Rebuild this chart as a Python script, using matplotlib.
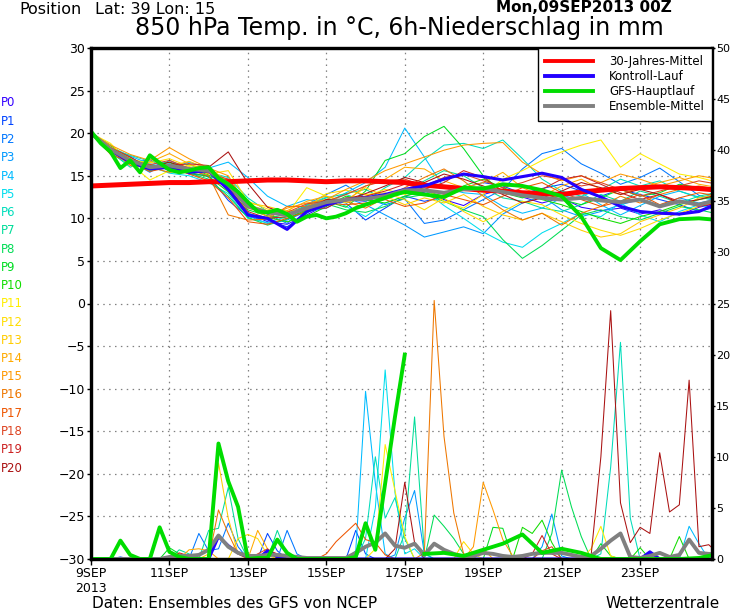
import numpy as np
import matplotlib.pyplot as plt
from matplotlib.lines import Line2D

# time axes, hours after 09SEP2013 00Z
hours_6h = np.arange(0, 385, 6)        # ensemble precipitation
hours_12h = np.arange(0, 385, 12)      # ensemble temperature
hours_gfs = np.r_[np.arange(0, 193, 6), np.arange(204, 385, 12)]
hours_gfs_rain_a = np.arange(0, 193, 6)
hours_gfs_rain_b = np.arange(204, 385, 12)

tick_hours = [0, 48, 96, 144, 192, 240, 288, 336]
tick_labels = ["9SEP\n2013", "11SEP", "13SEP", "15SEP", "17SEP", "19SEP", "21SEP", "23SEP"]

member_names = ["P%d" % i for i in range(21)]
member_colors = ["#3300ff", "#0044ff", "#0077ff", "#0099ff", "#00bbff", "#00ddee",
                 "#00ddbb", "#00dd99", "#00dd55", "#00dd22", "#11dd00", "#ffee00",
                 "#ffdd00", "#ffcc00", "#ffaa00", "#ff9900", "#ee7700", "#ee5500",
                 "#dd4422", "#cc2222", "#aa1111"]

# 850 hPa temperature of the members (12h steps)
t_p0 = [20.0, 18.3, 16.9, 16.2, 15.9, 15.6, 15.4, 13.2, 10.6, 9.6, 9.3, 10.4, 11.6, 12.2, 12.0, 12.8, 13.4,
        13.0, 12.2, 11.5, 12.8, 13.4, 12.5, 11.8, 12.4, 11.3, 10.9, 11.2, 10.5, 11.0, 10.4, 11.3, 11.8]
t_p1 = [20.0, 17.9, 17.2, 15.8, 16.4, 15.2, 15.0, 12.1, 10.2, 9.8, 9.0, 10.6, 12.2, 11.8, 9.8, 11.2, 12.6,
        12.0, 12.5, 13.6, 14.2, 13.8, 12.9, 13.5, 14.0, 13.2, 12.6, 13.4, 12.8, 12.2, 11.6, 10.8, 11.4]
t_p2 = [20.0, 18.6, 16.5, 16.9, 15.5, 16.0, 14.8, 14.6, 11.3, 10.5, 9.4, 11.6, 12.8, 13.9, 12.4, 11.6, 12.3,
        9.4, 9.8, 11.0, 12.2, 13.4, 15.8, 17.6, 18.2, 16.4, 15.3, 14.0, 14.8, 15.9, 14.3, 12.7, 12.1]
t_p3 = [20.0, 18.0, 16.7, 15.4, 16.8, 15.8, 15.6, 13.4, 10.3, 9.4, 9.8, 10.8, 11.2, 12.4, 11.6, 10.4, 9.2,
        7.8, 8.4, 9.0, 8.2, 10.5, 11.8, 12.6, 11.0, 10.2, 10.8, 11.6, 12.2, 11.4, 12.4, 11.8, 12.3]
t_p4 = [20.0, 18.4, 17.3, 16.4, 15.9, 16.6, 15.9, 16.6, 14.8, 12.6, 11.4, 12.2, 11.8, 13.0, 14.2, 16.0, 20.6,
        17.2, 13.6, 13.0, 12.8, 11.4, 10.6, 11.2, 12.4, 13.0, 11.6, 10.4, 11.5, 12.6, 13.2, 12.5, 12.0]
t_p5 = [20.0, 17.6, 16.3, 16.1, 15.3, 15.0, 14.2, 12.9, 10.0, 9.5, 10.2, 11.6, 12.5, 11.4, 10.2, 11.8, 12.6,
        13.3, 11.5, 10.0, 8.4, 7.2, 6.6, 8.3, 9.4, 10.6, 10.2, 11.8, 10.4, 9.6, 10.8, 11.6, 11.0]
t_p6 = [20.0, 18.1, 17.4, 16.7, 16.5, 16.3, 15.4, 14.8, 12.4, 10.8, 10.3, 10.6, 11.9, 12.8, 12.0, 13.6, 14.8,
        16.9, 18.6, 18.8, 18.2, 19.2, 17.0, 14.6, 13.2, 12.6, 13.4, 14.6, 13.8, 14.4, 13.2, 12.4, 13.0]
t_p7 = [20.0, 17.8, 16.0, 17.0, 16.2, 15.5, 15.7, 13.7, 10.6, 9.9, 10.6, 11.5, 12.4, 12.9, 13.4, 12.2, 13.0,
        14.4, 15.6, 15.0, 13.6, 12.4, 12.0, 11.2, 10.8, 11.6, 12.8, 12.0, 13.2, 12.6, 11.8, 12.6, 13.1]
t_p8 = [20.0, 18.2, 16.6, 15.6, 16.0, 15.3, 14.6, 12.6, 10.1, 9.2, 9.9, 10.9, 11.7, 11.0, 10.7, 11.4, 12.4,
        12.8, 12.0, 11.0, 10.2, 7.5, 5.3, 6.8, 8.6, 10.4, 11.0, 10.2, 9.8, 10.6, 11.4, 11.0, 10.5]
t_p9 = [20.0, 18.5, 17.0, 16.3, 15.7, 15.9, 15.1, 13.9, 11.0, 10.3, 10.0, 11.0, 12.0, 11.3, 13.2, 16.8, 17.6,
        19.6, 20.8, 18.2, 15.0, 13.0, 12.4, 13.0, 12.2, 11.6, 12.4, 13.4, 12.6, 13.0, 14.0, 13.6, 13.2]
t_p10 = [20.0, 17.7, 16.8, 15.9, 16.6, 15.4, 14.9, 13.1, 10.4, 10.1, 9.6, 10.2, 11.4, 12.6, 12.2, 11.8, 12.6,
         13.2, 12.6, 13.8, 14.6, 13.6, 12.8, 12.2, 11.6, 10.8, 10.0, 9.4, 10.2, 10.8, 11.6, 12.2, 12.6]
t_p11 = [20.0, 18.8, 16.4, 14.5, 15.6, 16.2, 16.0, 14.2, 11.6, 10.9, 10.5, 13.6, 12.6, 11.8, 12.6, 13.4, 12.8,
         13.6, 12.0, 11.2, 12.8, 14.6, 15.6, 16.8, 17.8, 18.6, 19.2, 16.0, 17.6, 16.4, 15.2, 14.8, 14.2]
t_p12 = [20.0, 18.0, 16.9, 16.5, 17.0, 16.1, 15.2, 15.6, 12.0, 11.1, 10.4, 11.3, 12.9, 13.3, 12.8, 13.0, 12.2,
         11.0, 12.4, 10.8, 9.6, 10.8, 12.0, 11.6, 10.4, 9.4, 8.6, 8.0, 8.8, 9.8, 10.6, 11.4, 12.0]
t_p13 = [20.0, 18.4, 17.1, 15.7, 16.1, 16.7, 15.8, 14.4, 11.8, 11.4, 10.8, 11.1, 11.6, 12.1, 13.6, 12.6, 11.6,
         12.4, 11.8, 12.8, 11.4, 10.4, 9.8, 10.6, 9.6, 8.6, 7.8, 8.2, 9.6, 10.4, 11.2, 12.4, 12.8]
t_p14 = [20.0, 17.8, 16.4, 16.6, 17.6, 16.4, 15.5, 13.8, 11.2, 10.6, 10.9, 12.0, 12.6, 12.0, 13.8, 14.6, 16.0,
         15.8, 14.4, 13.6, 14.2, 15.4, 13.6, 12.6, 13.8, 14.6, 13.4, 12.8, 13.6, 14.2, 14.8, 14.0, 13.6]
t_p15 = [20.0, 18.6, 17.5, 16.8, 18.3, 17.0, 15.9, 15.0, 11.4, 10.2, 11.2, 11.8, 12.2, 13.4, 14.4, 15.6, 16.4,
         17.2, 18.0, 18.6, 18.8, 18.9, 16.6, 15.2, 14.4, 15.0, 14.2, 15.2, 14.6, 13.8, 14.4, 15.0, 14.6]
t_p16 = [20.0, 18.2, 16.2, 16.0, 15.4, 15.7, 15.0, 10.4, 9.8, 9.9, 11.4, 11.4, 12.2, 12.0, 11.2, 12.4, 13.6,
         14.8, 15.8, 14.4, 12.6, 11.0, 9.8, 10.6, 9.2, 10.6, 11.4, 12.6, 11.8, 12.8, 13.4, 13.8, 13.4]
t_p17 = [20.0, 17.5, 16.6, 15.5, 16.0, 15.2, 14.4, 12.4, 9.6, 9.3, 10.0, 10.8, 11.8, 11.6, 11.8, 12.2, 11.4,
         11.8, 12.8, 12.2, 11.6, 12.6, 13.6, 14.2, 13.0, 12.2, 11.4, 12.0, 12.8, 11.6, 12.4, 13.0, 12.6]
t_p18 = [20.0, 18.0, 16.8, 16.3, 16.8, 15.9, 15.3, 14.6, 11.6, 10.5, 10.7, 11.7, 12.0, 12.8, 13.8, 14.4, 14.6,
         13.8, 14.8, 15.2, 14.4, 13.6, 14.2, 15.0, 14.6, 13.8, 14.2, 13.4, 12.6, 13.2, 13.8, 14.4, 14.0]
t_p19 = [20.0, 18.3, 17.2, 15.9, 16.2, 16.4, 16.2, 13.6, 10.8, 10.0, 10.2, 11.2, 11.2, 12.4, 12.6, 13.2, 14.0,
         13.4, 14.2, 15.6, 14.8, 13.2, 12.6, 13.4, 14.6, 15.0, 14.0, 13.0, 12.2, 12.8, 12.0, 11.4, 11.8]
t_p20 = [20.0, 17.9, 16.5, 16.0, 16.6, 15.8, 16.0, 17.8, 14.1, 11.3, 10.5, 11.0, 12.2, 12.2, 12.9, 13.8, 14.8,
         14.2, 15.2, 14.6, 13.8, 12.8, 11.8, 12.4, 13.2, 14.2, 13.6, 12.8, 13.4, 12.8, 11.8, 12.2, 12.8]

t_control = [20.0, 18.0, 16.6, 15.8, 16.0, 15.4, 15.6, 13.4, 10.4, 10.0, 8.7, 10.8, 11.6, 12.2, 12.4, 12.8, 13.4,
             13.8, 14.6, 15.2, 14.9, 14.5, 14.9, 15.3, 14.8, 13.4, 12.5, 11.4, 10.8, 10.6, 10.5, 10.8, 11.8]
t_mean = [20.0, 18.1, 16.8, 16.0, 16.2, 15.8, 15.6, 14.0, 11.4, 10.7, 10.4, 11.2, 11.9, 12.2, 12.3, 12.6, 13.3,
          13.3, 13.0, 13.4, 13.5, 13.1, 12.7, 12.4, 12.2, 12.4, 12.1, 11.9, 12.2, 11.4, 12.0, 11.6, 12.2]
t_clim = [13.8, 13.9, 14.0, 14.1, 14.2, 14.2, 14.3, 14.3, 14.4, 14.5, 14.5, 14.4, 14.3, 14.4, 14.4, 14.3, 14.2,
          13.9, 13.7, 13.5, 13.3, 13.2, 13.0, 12.9, 12.8, 13.1, 13.3, 13.5, 13.6, 13.7, 13.6, 13.5, 13.3]
t_gfs = [20.2, 18.8, 17.8, 15.9, 16.8, 15.4, 17.4, 16.5, 15.7, 15.4, 15.6, 15.9, 16.0, 14.7, 14.0, 13.1, 11.9,
         10.8, 10.7, 11.0, 10.5, 9.6, 10.2, 10.4, 10.0, 10.2, 10.6, 11.2, 11.6, 12.0, 12.4, 12.8, 13.1,
         12.8, 12.5, 13.6, 13.5, 14.0, 13.8, 13.3, 12.6, 10.2, 6.5, 5.1, 7.3, 9.3, 9.9, 10.0, 9.8]

# 6h precipitation of the members (6h steps)
r_p0 = [0, 0, 0, 0, 0, 0, 0, 0, 0, 0, 0, 0, 0, 0, 0, 0,
        0, 0, 0.5, 0.3, 0, 0, 0, 0, 0, 0, 0, 0, 0, 0, 0, 0,
        0, 0, 0, 0, 0, 0, 0, 0, 0, 0, 0, 0, 0, 0, 0, 0,
        0, 0, 0, 0, 0, 0, 0, 0, 0, 0, 0, 0, 0, 0, 0, 0, 0]
r_p1 = [0, 0, 0, 0.2, 0, 0, 0, 0, 0, 0, 0, 0, 0, 0, 0, 0,
        0, 0, 2.5, 0.8, 0, 0, 0, 0, 0, 0, 0, 2.8, 0.5, 0, 0, 0,
        0, 0, 0, 0, 0, 0, 0, 0, 0, 0, 0, 0, 0, 0, 0, 0,
        0, 0, 0, 0, 0, 0, 0, 0, 0, 0.5, 0, 0, 0, 0, 0, 0, 0]
r_p2 = [0, 0, 0, 0, 0, 0, 0, 0, 0, 0, 0, 2.5, 0.8, 1.0, 3.5, 1.2,
        0, 0, 0, 0, 2.8, 0.5, 0, 0, 0, 0, 0, 0, 0, 0, 0, 0,
        0, 0, 0, 0, 0, 0, 0, 0, 0, 0, 0, 0, 0, 0, 0, 0,
        0, 0, 0, 0, 0, 0, 0, 0, 0, 0, 0, 0, 0, 0, 0, 0, 0]
r_p3 = [0, 0, 0, 0, 0, 0, 0, 0, 0, 0, 0, 0, 0, 0, 0, 0,
        0, 0, 0, 0, 0, 0, 0, 0, 0, 0, 0, 0, 0, 0, 0, 0.4,
        4.0, 6.7, 0.5, 0, 0, 0, 0, 0, 0, 0, 0, 0, 0, 0, 1.2, 4.4,
        0.3, 0, 0, 0, 0, 0, 0, 0, 0, 0, 0, 0, 0, 0, 0, 0, 0]
r_p4 = [0, 0, 0, 0, 0, 0, 0, 0, 0, 0, 0, 0, 0, 0, 0, 0,
        0, 0, 0, 0, 0, 0, 0, 0, 0, 0, 0, 0.8, 16.4, 7.4, 0.5, 0,
        0, 0, 0, 0, 0, 0, 0, 0, 0, 0, 0, 0, 0, 0, 0, 0,
        0, 0, 0, 0, 0, 0, 0, 0, 0, 0, 0, 0, 0, 3.2, 1.5, 0, 0]
r_p5 = [0, 0, 0, 0, 0, 0, 0, 0, 0, 0, 0, 0, 0, 0, 0, 0,
        0, 0, 0, 0, 0, 0, 0, 0, 0, 0, 0, 0, 0, 5.0, 18.5, 6.5,
        0.5, 1.0, 0, 0, 0, 0, 0, 0, 0, 0, 0, 0, 0, 0, 0, 0,
        0, 0, 0, 0, 0, 0, 0, 0, 0, 0, 0, 0, 0, 0, 0, 0, 0]
r_p6 = [0, 0, 0, 0, 0, 0, 0, 0, 0, 0, 0, 0, 0, 0, 0, 0,
        0, 0, 0, 0, 0, 0, 0, 0, 0, 0, 0, 0, 2.0, 10.0, 4.0, 6.0,
        2.0, 0, 0, 0, 0, 0, 0, 0, 0, 0, 0, 0, 0, 0, 0, 0,
        0, 0, 0, 0, 0.5, 9.0, 21.2, 4.0, 0, 0, 0, 0, 0, 0, 0, 0, 0]
r_p7 = [0, 0, 0, 0, 0, 0, 0, 0, 0, 0.9, 0.5, 0, 2.8, 3.0, 7.0, 2.0,
        0, 0, 0, 2.8, 0.4, 0, 0, 0, 0, 0, 0, 0, 0, 0, 0, 0,
        2.5, 13.9, 0.6, 0, 0, 0, 0, 0, 0, 0, 0, 0, 0, 0, 0, 0,
        0, 0, 0, 0, 0, 0, 0, 0, 0, 0, 0, 0, 0, 0, 0, 0, 0]
r_p8 = [0, 0, 0, 0, 0, 0, 0, 0, 0, 0, 0, 0, 0, 0, 0, 0,
        0, 0, 0, 0, 0, 0, 0, 0, 0, 0, 0, 0, 0, 0, 0, 0,
        0, 0, 0, 4.3, 3.2, 2.0, 0.5, 0, 0, 0, 0, 0, 0, 0, 0, 2.5,
        8.7, 5.1, 2.2, 0, 0, 0, 0, 0, 0, 0, 0, 0, 0, 0, 0, 0, 0]
r_p9 = [0, 0, 0, 0, 0, 0, 0, 0, 1.1, 0.5, 0, 0, 0, 0, 0, 0,
        0, 0, 0, 0, 0, 0, 0, 0, 0, 0, 0, 0, 0, 0, 0, 0,
        0, 0, 0, 0, 0, 0, 0, 0, 0, 3.1, 3.0, 0, 0, 0, 0, 0,
        0, 0, 0, 0, 1.5, 0.3, 0, 0, 0, 0, 0, 0, 0, 0, 0, 0, 0]
r_p10 = [0, 0, 0, 0, 0, 0, 0, 0, 0, 0, 0, 0, 0, 0, 0, 0,
         0, 0, 0, 0, 0, 0, 0, 0, 0, 0, 0, 0, 0, 0, 0, 0,
         0, 0, 0, 0, 0, 0, 0, 0, 0, 0, 0, 0, 3.1, 2.5, 3.8, 1.6,
         0, 0, 0, 0, 0, 0, 0, 0, 1.1, 0, 0, 0, 2.2, 0, 0, 0, 0]
r_p11 = [0, 0, 0, 0, 0, 0, 0, 0, 0, 0, 0, 0, 0, 0, 0, 0,
         0, 0, 0, 0, 0, 0, 0, 0, 0, 0, 0, 0, 0, 1.0, 11.2, 6.7,
         2.2, 0, 0, 0, 0, 0, 0, 0, 0, 0, 0, 0, 0, 0, 0, 0,
         0, 0, 0, 1.0, 3.2, 0.3, 0, 0, 0, 0, 0, 0, 0, 0, 0, 0, 0]
r_p12 = [0, 0, 0, 0, 0, 0, 0, 0, 0, 0, 0, 0, 0, 0, 0, 2.0,
         2.4, 2.0, 0.4, 0, 0, 0, 0, 0, 0, 0, 0, 0, 0, 0, 0, 0,
         0, 0, 0, 0, 0, 0, 1.7, 0.5, 0, 0, 0, 0, 0, 0, 0, 0,
         0, 0, 0, 0, 0, 0, 0, 0, 0, 0, 0, 0, 0, 0, 0, 0, 0]
r_p13 = [0, 0, 0, 0, 0, 0, 0, 0, 0, 0, 0, 0, 0.5, 9.4, 4.0, 0.5,
         0, 0, 0, 0, 0, 0, 0, 0, 0, 0, 0, 0, 0, 0, 0, 0,
         0, 0, 0, 0, 0, 0, 0, 0, 0, 0, 0, 0, 0, 0, 0, 0,
         0, 0, 0, 0, 0, 0, 0, 0, 0, 0, 0, 0, 0, 0, 0, 0, 0]
r_p14 = [0, 0, 0, 0, 0, 0, 0, 0, 0, 0, 0.9, 1.0, 0.8, 0, 0, 0,
         0, 2.8, 1.0, 0, 0, 0, 0, 0, 0, 0, 0, 0, 0, 0, 0, 0,
         0, 0, 0, 0, 0, 0, 0, 0, 1.0, 0, 0, 0, 0, 0, 0, 0,
         0, 0, 0, 0, 0, 0, 0, 0, 0, 0, 0, 0, 0, 0, 0, 0, 0]
r_p15 = [0, 0, 0, 0, 0, 0, 0, 0, 0, 0, 0, 0, 0, 0, 0, 0,
         0, 0, 0, 0, 0, 0, 0, 0, 0, 0, 0, 0, 0, 0, 0, 0,
         0, 0, 0, 0, 0, 0, 0, 1.2, 7.5, 4.8, 1.9, 0.3, 0, 0, 0, 0,
         0, 0, 0, 0, 0, 0, 0, 0, 0, 0, 0, 0, 0, 0, 0, 0, 0]
r_p16 = [0, 0, 0, 0, 0, 0, 0, 0, 0, 0, 0, 0, 0, 4.8, 2.5, 0.5,
         0, 0, 0, 0, 0, 0, 0, 0, 0, 0, 0, 0, 0, 0, 0, 0,
         0, 0, 0.6, 25.3, 12.0, 4.5, 0.5, 0, 0, 0, 0, 0, 0, 0, 0, 0,
         0, 0, 0, 0, 0, 0, 0, 0, 0, 0, 0, 0, 0, 0, 0, 0, 0]
r_p17 = [0, 0, 0, 0, 0, 0, 0, 0, 0, 0, 0, 0, 0, 0, 0, 0,
         0, 0, 0, 0, 0, 0, 0, 0, 0.5, 1.7, 2.6, 3.5, 1.9, 1.6, 0.4, 0,
         0, 0, 0, 0, 0, 0, 0, 0, 0, 0, 0, 0, 0, 0, 0, 0,
         0, 0, 0, 0, 0, 0, 0, 0, 0, 0, 0, 0, 0, 0, 0, 0, 0]
r_p18 = [0, 0, 0, 0, 0, 0, 0, 0, 0, 0, 0, 0, 0, 0, 0, 0,
         0, 0.5, 1.0, 0.3, 0, 0, 0, 0, 0, 0, 0, 0, 0, 0, 0, 0,
         0, 0, 0, 0, 0, 0, 0, 0, 0, 0, 0, 0, 0, 0, 0.8, 1.2,
         0, 0, 0, 0, 0, 0, 0, 0, 0, 0, 0, 0, 0, 0, 0, 0, 0]
r_p19 = [0, 0, 0, 0, 0, 0, 0, 0, 0, 0.6, 0.3, 0, 0, 0, 0, 0,
         0, 0, 0.9, 0.5, 0, 0, 0, 0, 0, 0, 0, 0, 0, 0, 0, 0,
         0, 0, 0, 0, 0, 0, 0, 0, 0, 0, 0, 0, 0, 0.5, 2.3, 0.5,
         0, 0, 0, 0, 0, 0, 0, 0, 0, 0, 0, 0, 0, 0, 0, 0, 0]
r_p20 = [0, 0, 0, 0, 0, 0, 0, 0, 0, 0, 0, 0, 0, 0, 0, 0,
         0, 0, 0, 0, 0, 0, 0, 0, 0, 0, 0, 0, 0, 0, 0, 1.0,
         7.5, 1.6, 0, 0, 0, 0, 0, 0, 0, 0, 0, 0, 0, 0, 0, 0,
         0, 0, 0, 0.3, 10.0, 24.3, 5.5, 1.6, 3.1, 2.5, 10.4, 4.6, 5.3, 17.5, 1.2, 1.4, 0.5]

r_control = [0, 0, 0, 0, 0, 0, 0, 0, 0, 0, 0, 0, 0, 2.2, 1.3, 0.6,
             0.2, 0, 0.8, 0.2, 0, 0, 0, 0, 0, 0, 0, 0, 0, 0, 0, 0,
             0, 0, 0, 0, 0, 0, 0, 0, 0, 0, 0, 0, 0, 0, 0, 0,
             0, 0, 0, 0, 0, 0, 0, 0, 0, 0.7, 0, 0, 0, 0, 0, 0, 0]
r_mean = [0, 0, 0, 0, 0, 0, 0, 0, 0.2, 0.3, 0.3, 0.4, 0.9, 2.3, 1.2, 0.6,
          0.3, 0.3, 0.4, 0.4, 0.3, 0.2, 0.1, 0.1, 0.1, 0.1, 0.1, 0.6, 1.2, 1.6, 2.5, 1.3,
          1.1, 1.5, 0.4, 1.5, 0.9, 0.5, 0.2, 0.3, 0.6, 0.5, 0.3, 0.2, 0.3, 0.5, 0.6, 0.6,
          0.6, 0.4, 0.2, 0.3, 1.0, 1.8, 2.5, 0.2, 0.1, 0.3, 0.6, 0.2, 0.4, 1.9, 0.6, 0.5, 0.5]
r_gfs_a = [0, 0, 0, 1.8, 0.4, 0, 0, 3.1, 0.7, 0.2, 0, 0, 0, 11.3, 7.6, 5.1, 0,
           0.1, 0.1, 1.9, 0.6, 0, 0, 0, 0, 0, 0, 0.2, 3.5, 0.9, 7.4, 13.9, 20.0]
r_gfs_b = [0.5, 0.6, 0.3, 0.9, 1.5, 2.4, 0.6, 1.0, 0.6, 0, 0, 0, 0, 0, 0.1, 0.5]

member_temps = [t_p0, t_p1, t_p2, t_p3, t_p4, t_p5, t_p6, t_p7, t_p8, t_p9, t_p10,
                t_p11, t_p12, t_p13, t_p14, t_p15, t_p16, t_p17, t_p18, t_p19, t_p20]
member_rain = [r_p0, r_p1, r_p2, r_p3, r_p4, r_p5, r_p6, r_p7, r_p8, r_p9, r_p10,
               r_p11, r_p12, r_p13, r_p14, r_p15, r_p16, r_p17, r_p18, r_p19, r_p20]

CLIM_COLOR = "#ff0000"
CTRL_COLOR = "#2200ff"
GFS_COLOR = "#00dd00"
MEAN_COLOR = "#808080"

W, H = 730, 609
fig = plt.figure(figsize=(W / 100, H / 100), dpi=100)
ax = fig.add_axes([91 / W, 50 / H, 621 / W, 511 / H])
ax2 = ax.twinx()

# members
for temps, color in zip(member_temps, member_colors):
    ax.plot(hours_12h, temps, color=color, lw=0.75)
for rain, color in zip(member_rain, member_colors):
    ax2.plot(hours_6h, rain, color=color, lw=0.75)

# thick lines
ax.plot(hours_12h, t_clim, color=CLIM_COLOR, lw=3.6)
ax.plot(hours_12h, t_control, color=CTRL_COLOR, lw=2.2)
ax.plot(hours_12h, t_mean, color=MEAN_COLOR, lw=2.8)
ax.plot(hours_gfs, t_gfs, color=GFS_COLOR, lw=2.8)
ax2.plot(hours_6h, r_control, color=CTRL_COLOR, lw=2.2)
ax2.plot(hours_6h, r_mean, color=MEAN_COLOR, lw=2.8)
ax2.plot(hours_gfs_rain_a, r_gfs_a, color=GFS_COLOR, lw=2.8)
ax2.plot(hours_gfs_rain_b, r_gfs_b, color=GFS_COLOR, lw=2.8)

ax.set_xlim(0, 380)
ax.set_ylim(-30, 30)
ax2.set_ylim(0, 50)
ax.set_yticks(range(-30, 31, 5))
ax2.set_yticks(range(0, 51, 5))
ax.set_xticks(tick_hours)
ax.set_xticklabels(tick_labels)
ax.grid(True, color="#808080", linestyle=(0, (1.2, 3.5)), linewidth=0.9)

for a in (ax, ax2):
    for sp in a.spines.values():
        sp.set_linewidth(2.3)
        sp.set_color("black")
    a.tick_params(direction="out", length=3, width=1, labelsize=9, pad=1)
ax.tick_params(axis="x", pad=2, length=4)
ax2.tick_params(axis="y", length=2, pad=1, labelsize=8)

handles = [Line2D([], [], color=CLIM_COLOR, lw=2.8),
           Line2D([], [], color=CTRL_COLOR, lw=2.8),
           Line2D([], [], color=GFS_COLOR, lw=2.8),
           Line2D([], [], color=MEAN_COLOR, lw=2.8)]
labels = ["30-Jahres-Mittel", "Kontroll-Lauf", "GFS-Hauptlauf", "Ensemble-Mittel"]
leg = ax2.legend(handles, labels, loc="upper right", borderaxespad=0, fancybox=False,
                 edgecolor="black", framealpha=1, fontsize=8.5, handlelength=4.0,
                 handletextpad=1.4, borderpad=0.6, labelspacing=0.18)
leg.get_frame().set_linewidth(1)

# member labels on the left
for i, (name, color) in enumerate(zip(member_names, member_colors)):
    fig.text(1 / W, 1 - (103 + i * 18.25) / H, name, color=color, fontsize=8.5, va="center")

fig.text(19 / W, 1 - 9 / H, "Position", fontsize=11.5, va="center")
fig.text(95 / W, 1 - 9 / H, "Lat: 39 Lon: 15", fontsize=11.5, va="center")
fig.text(672 / W, 1 - 8 / H, "Mon,09SEP2013 00Z", fontsize=11, fontweight="bold",
         va="center", ha="right")
fig.text(399 / W, 1 - 28 / H, "850 hPa Temp. in \u00b0C, 6h-Niederschlag in mm", fontsize=17,
         va="center", ha="center")
fig.text(92 / W, 1 - 603 / H, "Daten: Ensembles des GFS von NCEP", fontsize=11, va="center")
fig.text(720 / W, 1 - 603 / H, "Wetterzentrale", fontsize=11, va="center", ha="right")

fig.savefig("out.png", dpi=100)
